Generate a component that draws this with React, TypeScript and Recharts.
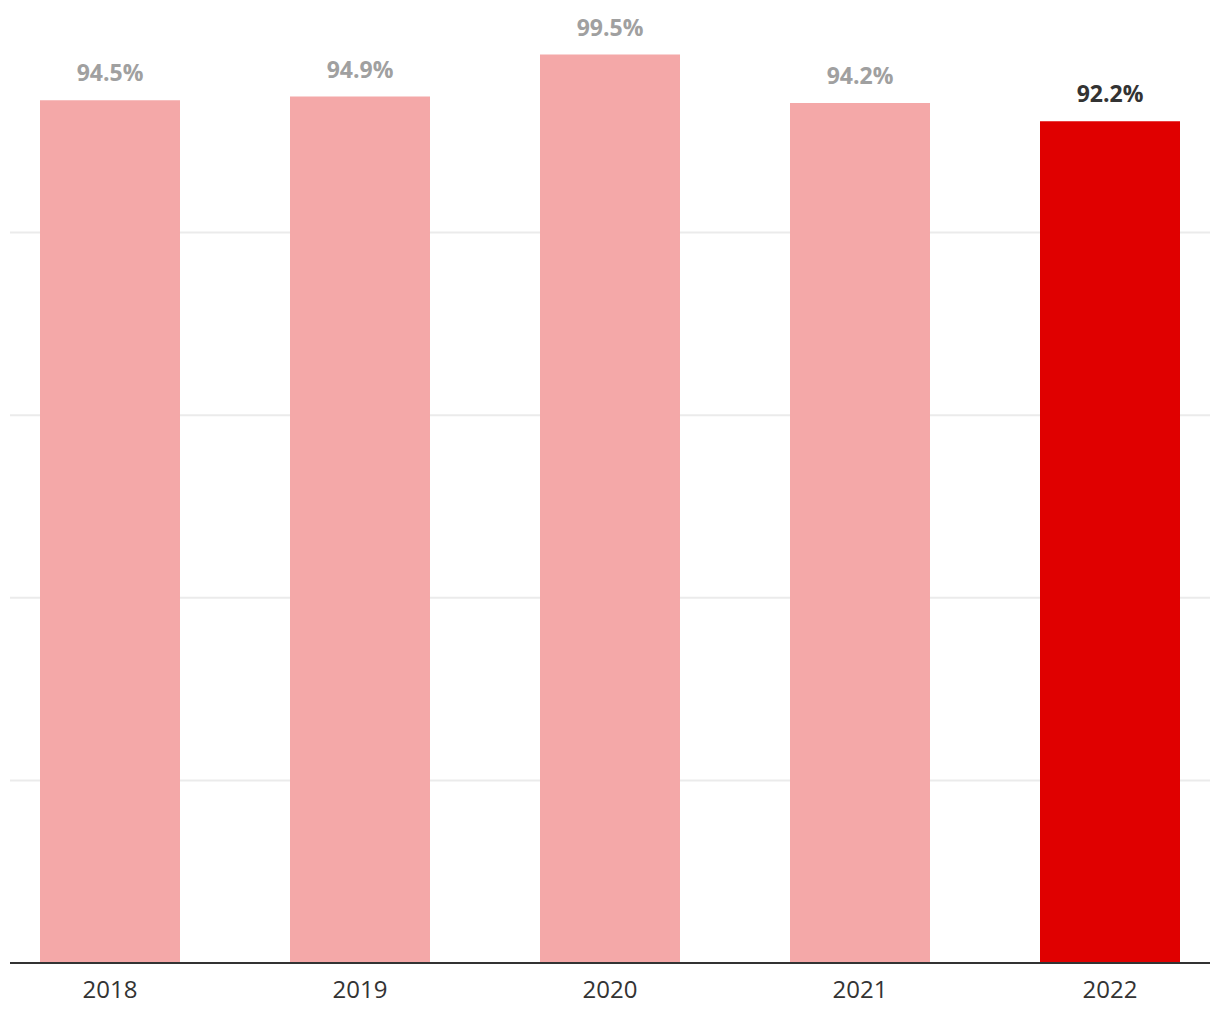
import React from "react";
import { BarChart, Bar, XAxis, YAxis, CartesianGrid, Cell, LabelList } from "recharts";

const years = [2018, 2019, 2020, 2021, 2022];
const shares = [94.5, 94.9, 99.5, 94.2, 92.2];
const yTicks = [20, 40, 60, 80];
const yMax = 100;

const data = years.map((year, i) => ({ year, share: shares[i] }));

const lastIndex = years.length - 1;

const renderLabel = (props: any) => {
  const { x, y, width, value, index } = props;
  const highlight = index === lastIndex;
  return (
    <text
      x={x + width / 2}
      y={y - 19}
      textAnchor="middle"
      fontSize={23}
      fontWeight={700}
      fontFamily="'Open Sans', sans-serif"
      fill={highlight ? "#333333" : "#a0a0a0"}
    >
      {`${value.toFixed(1)}%`}
    </text>
  );
};

// grid only at the inner ticks, no line at the top edge
const gridRows = ({ offset }: any) =>
  yTicks.map((t) => offset.top + offset.height * (1 - t / yMax));

export default function App() {
  return (
    <div style={{ position: "absolute", left: 0, top: 0, width: 1220, height: 1020, background: "#fff" }}>
      <BarChart
        width={1220}
        height={1020}
        data={data}
        margin={{ top: 50, right: 10, bottom: 7, left: 10 }}
      >
        <CartesianGrid
          vertical={false}
          stroke="#ebebeb"
          strokeWidth={2}
          horizontalCoordinatesGenerator={gridRows}
        />
        <XAxis
          dataKey="year"
          type="number"
          domain={[2017.6, 2022.4]}
          ticks={years}
          height={50}
          tickLine={false}
          axisLine={{ stroke: "#333333", strokeWidth: 2 }}
          tick={{ fontSize: 24, fill: "#333333", fontFamily: "'Open Sans', sans-serif" }}
          tickMargin={12}
          allowDataOverflow
        />
        <YAxis hide domain={[0, yMax]} ticks={yTicks} />
        <Bar dataKey="share" barSize={140} isAnimationActive={false}>
          {data.map((d, i) => (
            <Cell key={d.year} fill={i === lastIndex ? "#e00000" : "#f4a8a8"} />
          ))}
          <LabelList dataKey="share" content={renderLabel} />
        </Bar>
      </BarChart>
    </div>
  );
}
